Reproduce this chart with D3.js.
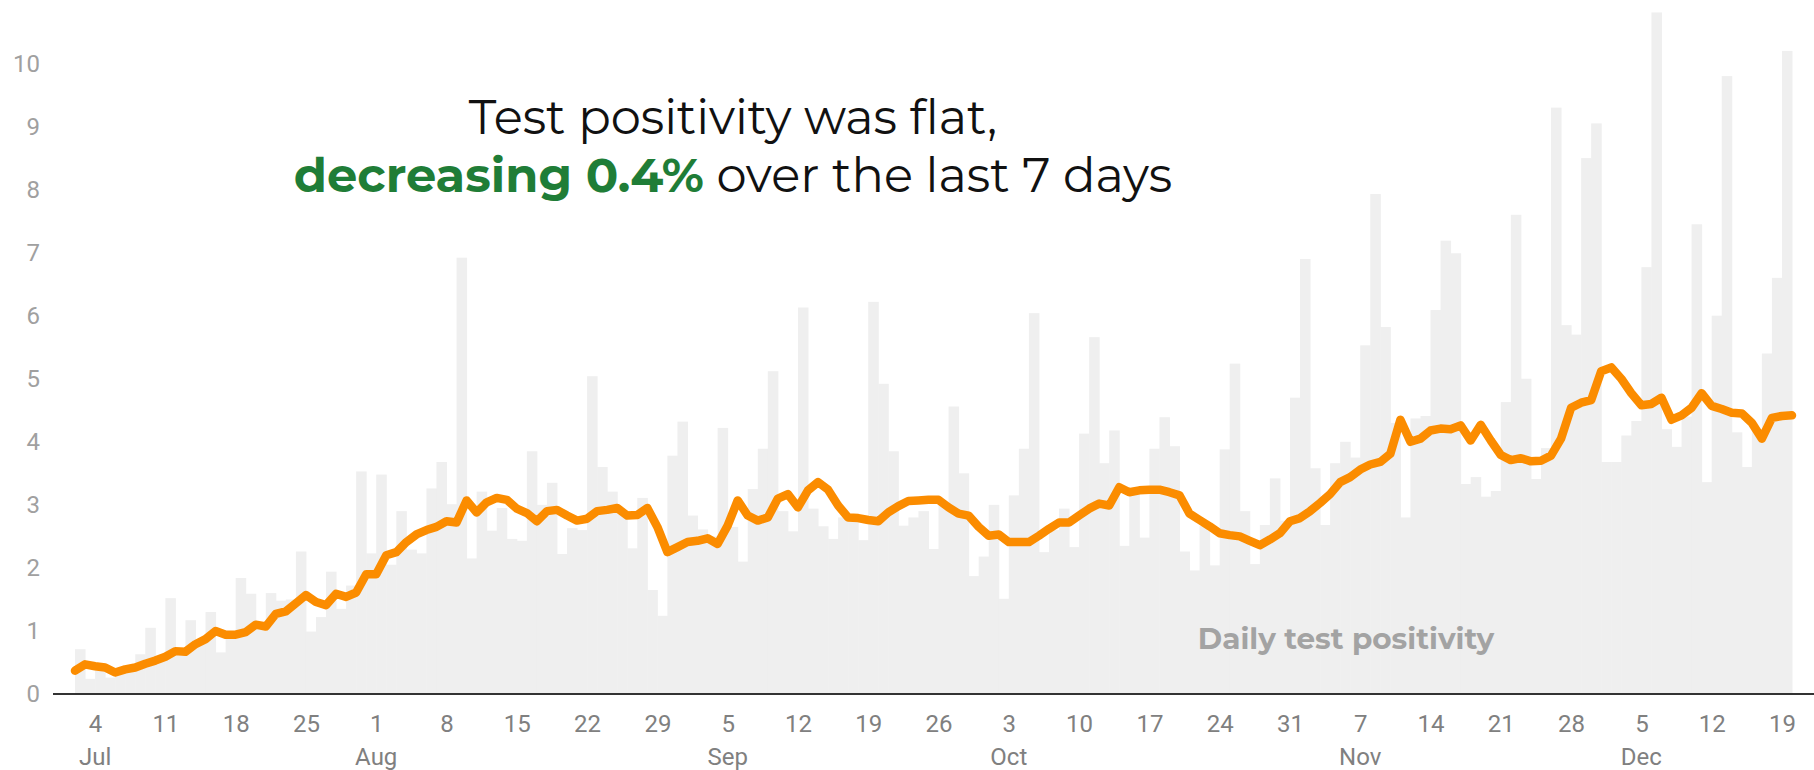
<!DOCTYPE html>
<html>
<head>
<meta charset="utf-8">
<script src="https://cdn.jsdelivr.net/npm/d3@7"></script>
<style>
  body { margin: 0; background: #fff; }
  svg { display: block; }
  .axis text { font-family: Roboto, sans-serif; font-size: 24px; }
</style>
</head>
<body>
<svg id="chart"></svg>
<script>
"use strict";

let width = 1814;
let height = 770;

// first day shown, one bar per day
let startDate = new Date(2020, 6, 2);

// daily test positivity, % (Jul 2 .. Dec 19)
let daily = [
  0.71, 0.24, 0.40, 0.26, 0.35, 0.40, 0.63, 1.05, 0.55, 1.52,
  0.62, 1.17, 0.85, 1.30, 0.66, 0.95, 1.84, 1.59, 1.10, 1.60,
  1.48, 1.50, 2.26, 0.99, 1.22, 1.94, 1.35, 1.72, 3.53, 2.23,
  3.48, 2.05, 2.90, 2.29, 2.23, 3.26, 3.68, 3.01, 6.92, 2.15,
  3.21, 2.59, 2.95, 2.46, 2.43, 3.85, 3.00, 3.35, 2.22, 2.63,
  2.60, 5.04, 3.60, 3.21, 2.85, 2.31, 3.11, 1.65, 1.24, 3.78,
  4.32, 2.83, 2.61, 2.50, 4.22, 2.65, 2.10, 3.25, 3.89, 5.12,
  2.90, 2.58, 6.13, 2.94, 2.66, 2.46, 2.80, 2.78, 2.44, 6.22,
  4.92, 3.85, 2.67, 2.80, 2.90, 2.30, 3.00, 4.56, 3.50, 1.87,
  2.18, 3.00, 1.51, 3.15, 3.89, 6.04, 2.25, 2.60, 2.94, 2.33,
  4.13, 5.66, 3.66, 4.18, 2.35, 3.20, 2.48, 3.89, 4.39, 3.93,
  2.26, 1.96, 2.67, 2.04, 3.88, 5.24, 2.90, 2.06, 2.68, 3.42,
  2.75, 4.70, 6.90, 3.58, 2.68, 3.66, 4.00, 3.75, 5.53, 7.93,
  5.82, 4.30, 2.80, 4.37, 4.41, 6.09, 7.19, 6.99, 3.33, 3.44,
  3.13, 3.22, 4.63, 7.60, 5.00, 3.41, 3.90, 9.30, 5.85, 5.70,
  8.50, 9.05, 3.68, 3.68, 4.10, 4.33, 6.77, 10.81, 4.20, 3.92,
  4.40, 7.45, 3.36, 6.00, 9.80, 4.15, 3.60, 4.20, 5.40, 6.60,
  10.20
];

// 7-day average, % (day boundaries Jul 2 .. Dec 20)
let avg7 = [
  0.37, 0.47, 0.44, 0.42, 0.34, 0.39, 0.42, 0.48, 0.53, 0.59,
  0.68, 0.67, 0.79, 0.87, 1.00, 0.94, 0.94, 0.98, 1.10, 1.07,
  1.27, 1.31, 1.44, 1.57, 1.46, 1.41, 1.59, 1.54, 1.61, 1.90,
  1.90, 2.20, 2.25, 2.41, 2.53, 2.60, 2.65, 2.74, 2.72, 3.07,
  2.88, 3.04, 3.11, 3.08, 2.94, 2.87, 2.74, 2.90, 2.92, 2.83,
  2.75, 2.78, 2.90, 2.92, 2.95, 2.83, 2.84, 2.95, 2.65, 2.25,
  2.33, 2.41, 2.43, 2.47, 2.38, 2.67, 3.07, 2.83, 2.75, 2.80,
  3.10, 3.17, 2.96, 3.23, 3.36, 3.24, 2.99, 2.80, 2.79, 2.76,
  2.74, 2.88, 2.98, 3.06, 3.07, 3.08, 3.08, 2.96, 2.86, 2.83,
  2.65, 2.51, 2.53, 2.41, 2.41, 2.41, 2.51, 2.62, 2.72, 2.72,
  2.83, 2.94, 3.02, 2.99, 3.28, 3.20, 3.23, 3.24, 3.24, 3.20,
  3.15, 2.86, 2.76, 2.66, 2.55, 2.52, 2.50, 2.43, 2.36, 2.45,
  2.55, 2.74, 2.79, 2.90, 3.03, 3.17, 3.36, 3.44, 3.56, 3.64,
  3.68, 3.81, 4.35, 4.00, 4.05, 4.18, 4.21, 4.20, 4.26, 4.02,
  4.27, 4.02, 3.79, 3.71, 3.74, 3.69, 3.70, 3.78, 4.05, 4.54,
  4.62, 4.66, 5.12, 5.18, 5.00, 4.77, 4.58, 4.60, 4.70, 4.35,
  4.42, 4.54, 4.77, 4.57, 4.52, 4.46, 4.45, 4.30, 4.05, 4.38,
  4.41, 4.42
];

let yTicks = [0, 1, 2, 3, 4, 5, 6, 7, 8, 9, 10];
let titleLine1 = "Test positivity was flat,";
let titleStrong = "decreasing 0.4%";
let titleRest = " over the last 7 days";
let seriesLabel = "Daily test positivity";

let barDates = daily.map((v, i) => d3.timeDay.offset(startDate, i));
let lineDates = avg7.map((v, i) => d3.timeDay.offset(startDate, i));

let svg = d3.select('#chart').attr('width', width).attr('height', height);

// scales
let x = d3.scaleTime()
  .domain([startDate, d3.timeDay.offset(startDate, daily.length)])
  .range([75, 1792]);

let y = d3.scaleLinear()
  .domain([0, 10])
  .range([694, 63.5]);

// daily bars
svg.append('g')
  .selectAll('rect')
  .data(daily)
  .enter()
  .append('rect')
    .attr('x', (d, i) => x(barDates[i]))
    .attr('y', d => y(d))
    .attr('width', (d, i) => x(d3.timeDay.offset(barDates[i], 1)) - x(barDates[i]) + 0.5)
    .attr('height', d => y(0) - y(d))
    .style('fill', '#efefef');

// series label inside the bars
svg.append('text')
  .attr('x', 1346)
  .attr('y', 649)
  .attr('text-anchor', 'middle')
  .style('font-family', 'Montserrat, "Noto Sans", sans-serif')
  .style('font-weight', 700)
  .style('font-size', '29.5px')
  .style('fill', '#a3a3a3')
  .text(seriesLabel);

// baseline
svg.append('line')
  .attr('x1', 53)
  .attr('x2', width)
  .attr('y1', y(0))
  .attr('y2', y(0))
  .style('stroke', '#333')
  .style('stroke-width', 2);

// y axis
let yAxis = svg.append('g')
  .attr('class', 'axis')
  .attr('transform', 'translate(48,0)')
  .call(d3.axisLeft(y).tickValues(yTicks).tickSize(0).tickPadding(8));
yAxis.select('.domain').remove();
yAxis.selectAll('text').style('fill', '#a0a0a0');

// x axis: weekly ticks (Saturdays), month name under the first tick of each month
let weekTicks = d3.timeSaturday.range(startDate, d3.timeDay.offset(startDate, daily.length));
let xAxis = svg.append('g')
  .attr('class', 'axis')
  .attr('transform', `translate(0,${y(0)})`)
  .call(d3.axisBottom(x).tickValues(weekTicks).tickSize(0).tickPadding(21)
    .tickFormat(d3.timeFormat('%-d')));
xAxis.select('.domain').remove();
xAxis.selectAll('text').style('fill', '#808080');

let monthTicks = weekTicks.filter((d, i) => i === 0 || d.getMonth() !== weekTicks[i - 1].getMonth());
xAxis.selectAll('.month')
  .data(monthTicks)
  .enter()
  .append('text')
    .attr('class', 'month')
    .attr('x', d => x(d))
    .attr('y', 71)
    .attr('text-anchor', 'middle')
    .style('fill', '#808080')
    .text(d3.timeFormat('%b'));

// 7-day average line
let line = d3.line()
  .x((d, i) => x(lineDates[i]))
  .y(d => y(d));

svg.append('path')
  .datum(avg7)
  .attr('d', line)
  .style('fill', 'none')
  .style('stroke', '#fb8c00')
  .style('stroke-width', 8.5)
  .style('stroke-linejoin', 'round')
  .style('stroke-linecap', 'round');

// headline
let title = svg.append('text')
  .attr('text-anchor', 'middle')
  .style('font-family', 'Montserrat, "Noto Sans", sans-serif')
  .style('font-size', '48px')
  .style('fill', '#111');

title.append('tspan')
  .attr('x', 733)
  .attr('y', 134)
  .text(titleLine1);

let line2 = title.append('tspan')
  .attr('x', 733)
  .attr('y', 192);
line2.append('tspan')
  .style('font-weight', 700)
  .style('fill', '#1f7d37')
  .text(titleStrong);
line2.append('tspan')
  .text(titleRest);
</script>
</body>
</html>
